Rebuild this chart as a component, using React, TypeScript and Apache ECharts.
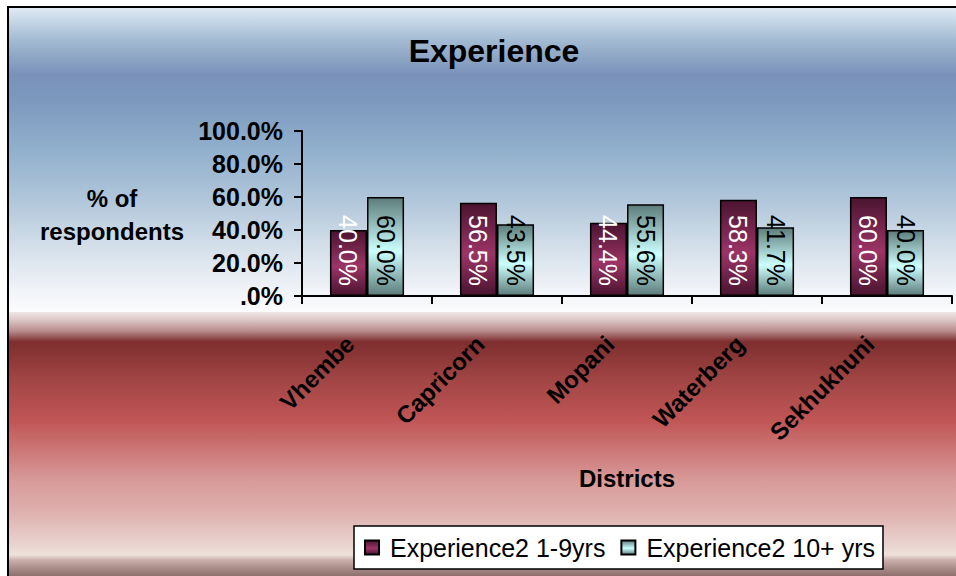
import React, { useEffect, useRef } from "react";
import * as echarts from "echarts";

const categories = ["Vhembe", "Capricorn", "Mopani", "Waterberg", "Sekhukhuni"];
const seriesNames = ["Experience2 1-9yrs", "Experience2 10+ yrs"];
const shortExperience = [0.4, 0.565, 0.444, 0.583, 0.6];
const longExperience = [0.6, 0.435, 0.556, 0.417, 0.4];
const yTicks = [0, 0.2, 0.4, 0.6, 0.8, 1.0];

const pct = (v: number) => (v === 0 ? ".0%" : (v * 100).toFixed(1) + "%");

const vGrad = (edge: string, mid: string) =>
  new echarts.graphic.LinearGradient(0, 0, 0, 1, [
    { offset: 0, color: edge },
    { offset: 0.55, color: mid },
    { offset: 1, color: edge },
  ]);

export default function App() {
  const ref = useRef<HTMLDivElement>(null);
  useEffect(() => {
    if (!ref.current) return;
    const chart = echarts.init(ref.current, undefined, { renderer: "svg" });
    const font = "Arial, 'Liberation Sans', Helvetica, sans-serif";
    const barLabel = (color: string) => ({
      show: true,
      position: "insideBottom" as const,
      distance: 10,
      rotate: -90,
      align: "right" as const,
      verticalAlign: "middle" as const,
      color,
      fontSize: 25,
      fontFamily: font,
      formatter: (p: any) => pct(p.value),
    });
    chart.setOption({
      animation: false,
      textStyle: { fontFamily: font },
      graphic: [
        {
          type: "rect",
          silent: true,
          z: -10,
          shape: { x: 8, y: 7, width: 960, height: 306 },
          style: {
            fill: new echarts.graphic.LinearGradient(0, 0, 0, 1, [
              { offset: 0, color: "#e2ecf4" },
              { offset: 0.04, color: "#c9d9e8" },
              { offset: 0.11, color: "#a2bad2" },
              { offset: 0.22, color: "#7a92b9" },
              { offset: 0.3, color: "#7c98bd" },
              { offset: 0.46, color: "#90afcc" },
              { offset: 0.63, color: "#b0c6da" },
              { offset: 0.79, color: "#d5e0ea" },
              { offset: 0.93, color: "#f1f4f8" },
              { offset: 1, color: "#fbfcfd" },
            ]),
          },
        },
        {
          type: "rect",
          silent: true,
          z: -10,
          shape: { x: 8, y: 312, width: 960, height: 270 },
          style: {
            fill: new echarts.graphic.LinearGradient(0, 0, 0, 1, [
              { offset: 0, color: "#f0e6e6" },
              { offset: 0.03, color: "#dcc6c6" },
              { offset: 0.07, color: "#b88c8c" },
              { offset: 0.11, color: "#7e2e2e" },
              { offset: 0.26, color: "#a44646" },
              { offset: 0.4, color: "#c05555" },
              { offset: 0.51, color: "#cc7676" },
              { offset: 0.63, color: "#d89c9a" },
              { offset: 0.74, color: "#deb0ae" },
              { offset: 0.85, color: "#e8d0cc" },
              { offset: 0.9, color: "#eee0da" },
              { offset: 0.92, color: "#c8aeaa" },
              { offset: 0.95, color: "#a88c88" },
              { offset: 1, color: "#7a5858" },
            ]),
          },
        },
        {
          type: "rect",
          silent: true,
          z: -5,
          shape: { x: 8, y: 7, width: 960, height: 580 },
          style: { fill: "none", stroke: "#000", lineWidth: 2 },
        },
        {
          type: "text",
          silent: true,
          x: 112,
          y: 182,
          style: {
            text: "% of\nrespondents",
            align: "center",
            verticalAlign: "top",
            fill: "#000",
            font: `bold 24px ${font}`,
            lineHeight: 33,
          },
        },
      ],
      title: {
        text: "Experience",
        left: 489,
        top: 30,
        textAlign: "center",
        textStyle: { fontSize: 32, fontWeight: "bold", color: "#000", fontFamily: font },
      },
      legend: {
        left: 354,
        top: 526,
        orient: "horizontal",
        padding: [9, 8, 9, 10],
        backgroundColor: "#fff",
        borderColor: "#000",
        borderWidth: 1.5,
        borderRadius: 0,
        itemWidth: 14,
        itemHeight: 14,
        itemGap: 15,
        textStyle: { fontSize: 25, color: "#000", fontFamily: font, padding: [0, 0, 0, 6] },
        data: seriesNames.map((n) => ({ name: n, icon: "rect" })),
      },
      grid: { left: 302, top: 131, width: 650, height: 165, containLabel: false },
      xAxis: {
        type: "category",
        data: categories,
        name: "Districts",
        nameLocation: "middle",
        nameGap: 170,
        nameTextStyle: { fontSize: 24, fontWeight: "bold", color: "#000", fontFamily: font },
        axisLine: { lineStyle: { color: "#000", width: 2 } },
        axisTick: { show: true, length: 8, lineStyle: { color: "#000", width: 2 } },
        axisLabel: {
          rotate: 45,
          margin: 27,
          padding: [0, 24, 0, 0],
          fontSize: 24,
          fontWeight: "bold",
          color: "#000",
          fontFamily: font,
          interval: 0,
        },
      },
      yAxis: {
        type: "value",
        min: yTicks[0],
        max: yTicks[yTicks.length - 1],
        interval: 0.2,
        axisLine: { show: true, lineStyle: { color: "#000", width: 2 } },
        axisTick: { show: true, length: 8, lineStyle: { color: "#000", width: 2 } },
        splitLine: { show: false },
        axisLabel: {
          margin: 19,
          fontSize: 25,
          fontWeight: "bold",
          color: "#000",
          fontFamily: font,
          formatter: (v: number) => pct(v),
        },
      },
      series: [
        {
          name: seriesNames[0],
          type: "bar",
          data: shortExperience,
          barGap: "0%",
          barCategoryGap: "43%",
          itemStyle: {
            color: vGrad("#4a1430", "#9c3466"),
            borderColor: "#000",
            borderWidth: 1.5,
          },
          label: barLabel("#fff"),
        },
        {
          name: seriesNames[1],
          type: "bar",
          data: longExperience,
          barGap: "0%",
          barCategoryGap: "43%",
          itemStyle: {
            color: vGrad("#5c7c7a", "#ccffff"),
            borderColor: "#000",
            borderWidth: 1.5,
          },
          label: barLabel("#000"),
        },
      ],
    });
    return () => chart.dispose();
  }, []);
  return (
    <div
      ref={ref}
      style={{ position: "fixed", left: 0, top: 0, width: 956, height: 576, background: "#fff" }}
    />
  );
}
